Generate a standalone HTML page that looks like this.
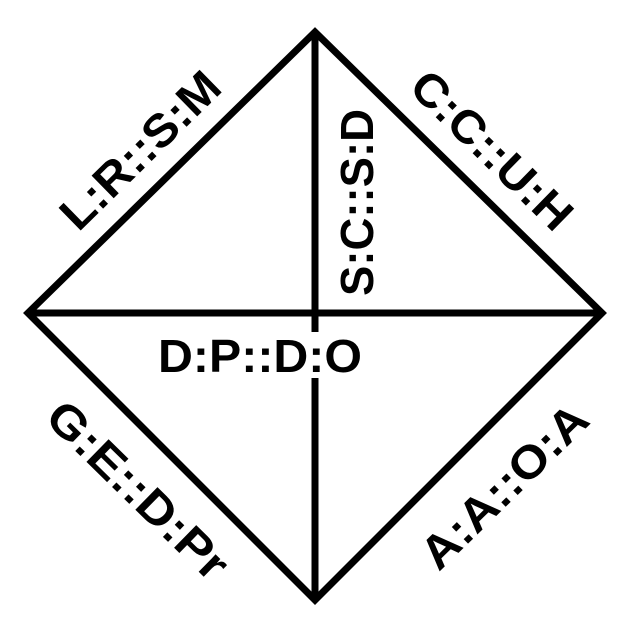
<!DOCTYPE html>
<html><head><meta charset="utf-8"><style>
html,body{margin:0;padding:0;background:#fff;}
svg{display:block}
text{font-family:"Liberation Sans",sans-serif;font-weight:bold;font-size:46px;fill:#000;}
</style></head><body>
<svg width="625" height="625" viewBox="0 0 625 625">
<g stroke="#000" stroke-width="7" fill="none" stroke-linejoin="miter">
<polygon points="315,32 602,313 315,600 28,313"/>
<line x1="315" y1="32" x2="315" y2="600"/>
<line x1="28" y1="313" x2="602" y2="313"/>
</g>
<rect x="156" y="332" width="210" height="46" fill="#fff"/>
<text x="158" y="372" textLength="204" lengthAdjust="spacingAndGlyphs">D:P::D:O</text>
<g transform="translate(140,150) rotate(-44.4)"><text x="-102" y="16" textLength="204" lengthAdjust="spacingAndGlyphs">L:R::S:M</text></g>
<g transform="translate(492,150) rotate(44.4)"><text x="-103" y="16" textLength="206" lengthAdjust="spacingAndGlyphs">C:C::U:H</text></g>
<g transform="translate(357,203) rotate(-90)"><text x="-93" y="16" textLength="187" lengthAdjust="spacingAndGlyphs">S:C::S:D</text></g>
<g transform="translate(138,490) rotate(44.4)"><text x="-117" y="16" textLength="234" lengthAdjust="spacingAndGlyphs">G:E::D:Pr</text></g>
<g transform="translate(504,486) rotate(-44.4)"><text x="-107" y="16" textLength="214" lengthAdjust="spacingAndGlyphs">A:A::O:A</text></g>
</svg>
</body></html>
